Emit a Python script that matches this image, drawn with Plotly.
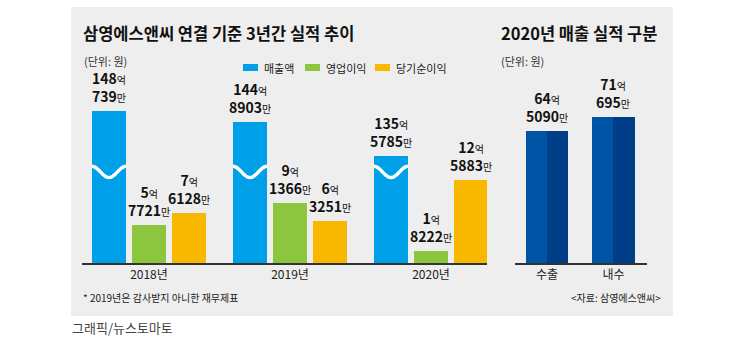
import numpy as np
import plotly.graph_objects as go

# ---------------- data (values in 만원) ----------------
years = ["2018년", "2019년", "2020년"]
revenue = [1480739, 1448903, 1355785]      # 매출액
op_income = [57721, 91366, 18222]          # 영업이익
net_income = [76128, 63251, 125883]        # 당기순이익
split_labels = ["수출", "내수"]
split_values = [645090, 710695]            # 2020 매출 구분

series_names = ["매출액", "영업이익", "당기순이익"]
series_colors = ["#00a0e9", "#8cc63e", "#f9b800"]

FONT = "Noto Sans CJK KR"
W, H = 750, 350
PANEL = "#eeeeee"

def px(x):
    return x / W

def py(y):
    return 1 - y / H

def label(v):
    eok, man = v // 10000, v % 10000
    return (f"<b>{eok}</b><span style='font-size:10px'>억</span><br>"
            f"<b>{man}</b><span style='font-size:10px'>만</span>")

# broken-axis transform for the revenue bars (axis is cut by the wave)
BREAK_FROM, BREAK_BASE, BREAK_SCALE = 135.0, 15.9, 0.545
WAVE_LEVEL = 13.8

def to_eok(v):
    return v / 10000

def broken(v):
    return BREAK_BASE + (to_eok(v) - BREAK_FROM) * BREAK_SCALE

fig = go.Figure()

offsets = [-0.284, 0.0, 0.284]
bw = 0.241
series_disp = [
    [broken(v) for v in revenue],
    [to_eok(v) for v in op_income],
    [to_eok(v) for v in net_income],
]
series_raw = [revenue, op_income, net_income]

annotations = []
shapes = []

for s in range(3):
    xs = [i + offsets[s] for i in range(len(years))]
    fig.add_trace(go.Bar(
        x=xs, y=series_disp[s], width=bw, marker=dict(color=series_colors[s], line=dict(width=0)),
        xaxis="x", yaxis="y", showlegend=False, hoverinfo="skip"))
    for xi, yd, raw in zip(xs, series_disp[s], series_raw[s]):
        annotations.append(dict(
            x=xi, y=yd, xref="x", yref="y", text=label(raw), showarrow=False,
            yanchor="bottom", yshift=3, align="center",
            font=dict(family=FONT, size=14, color="#111")))

# wave break on the revenue bars
t = np.linspace(0, 1, 40)
for i in range(len(years)):
    x0 = i + offsets[0] - bw / 2
    fig.add_trace(go.Scatter(
        x=x0 + t * bw, y=WAVE_LEVEL + 0.85 * np.cos(2 * np.pi * t),
        mode="lines", line=dict(color="white", width=3.5, shape="spline"),
        xaxis="x", yaxis="y", showlegend=False, hoverinfo="skip"))

# right chart: two-tone bars
split_disp = [to_eok(v) for v in split_values]
sx = list(range(len(split_labels)))
sw = 0.632
fig.add_trace(go.Bar(x=sx, y=split_disp, width=sw, marker=dict(color="#0054a6", line=dict(width=0)),
                     xaxis="x2", yaxis="y2", showlegend=False, hoverinfo="skip"))
fig.add_trace(go.Bar(x=[x + sw / 4 for x in sx], y=split_disp, width=sw / 2,
                     marker=dict(color="#003f88", line=dict(width=0)),
                     xaxis="x2", yaxis="y2", showlegend=False, hoverinfo="skip"))
for xi, yd, raw in zip(sx, split_disp, split_values):
    annotations.append(dict(
        x=xi, y=yd, xref="x2", yref="y2", text=label(raw), showarrow=False,
        yanchor="bottom", yshift=3, align="center",
        font=dict(family=FONT, size=14, color="#111")))

# panel background
shapes.append(dict(type="rect", xref="paper", yref="paper", x0=px(71), x1=px(673),
                   y0=py(316), y1=py(7), fillcolor=PANEL, line=dict(width=0), layer="below"))

# legend
leg_x = [243, 305, 375]
for name, col, lx in zip(series_names, series_colors, leg_x):
    shapes.append(dict(type="rect", xref="paper", yref="paper", x0=px(lx), x1=px(lx + 15),
                       y0=py(71), y1=py(64), fillcolor=col, line=dict(width=0)))
    annotations.append(dict(x=px(lx + 19), y=py(67.5), xref="paper", yref="paper", text=name,
                            showarrow=False, xanchor="left", yanchor="middle",
                            font=dict(family=FONT, size=11, color="#222")))

def txt(x, y, text, size, color="#111", xanchor="left", bold=False):
    annotations.append(dict(x=px(x), y=py(y), xref="paper", yref="paper",
                            text=f"<b>{text}</b>" if bold else text, showarrow=False,
                            xanchor=xanchor, yanchor="middle",
                            font=dict(family=FONT, size=size, color=color)))

txt(81, 33, "삼영에스앤씨 연결 기준 3년간 실적 추이", 16.5, bold=True)
txt(499, 33, "2020년 매출 실적 구분", 16.5, bold=True)
txt(82, 61, "(단위: 원)", 11, "#333")
txt(499, 61, "(단위: 원)", 11, "#333")
txt(81, 297, "* 2019년은 감사받지 아니한 재무제표", 10, "#222")
txt(663, 297, "&lt;자료: 삼영에스앤씨&gt;", 10, "#222", xanchor="right")
txt(70, 327, "그래픽/뉴스토마토", 13, "#444")

ydom = [py(263), py(98)]
fig.update_layout(
    width=W, height=H, margin=dict(l=0, r=0, t=0, b=0),
    paper_bgcolor="white", plot_bgcolor="rgba(0,0,0,0)",
    barmode="overlay", bargap=0,
    xaxis=dict(domain=[px(82), px(487)], range=[-0.475, 2.397], tickvals=list(range(len(years))),
               ticktext=years, showgrid=False, zeroline=False, showline=True,
               linecolor="#333", linewidth=2, ticks="", fixedrange=True,
               tickfont=dict(family=FONT, size=12, color="#222")),
    yaxis=dict(domain=ydom, range=[0, 25], visible=False, fixedrange=True),
    xaxis2=dict(domain=[px(515), px(647)], range=[-0.481, 1.504], tickvals=sx,
                ticktext=split_labels, showgrid=False, zeroline=False, showline=True,
                linecolor="#333", linewidth=2, ticks="", anchor="y2", fixedrange=True,
                tickfont=dict(family=FONT, size=12, color="#222")),
    yaxis2=dict(domain=ydom, range=[0, 80.5], visible=False, anchor="x2", fixedrange=True),
    shapes=shapes, annotations=annotations,
)

fig.write_html("out.html", config={"displayModeBar": False})
